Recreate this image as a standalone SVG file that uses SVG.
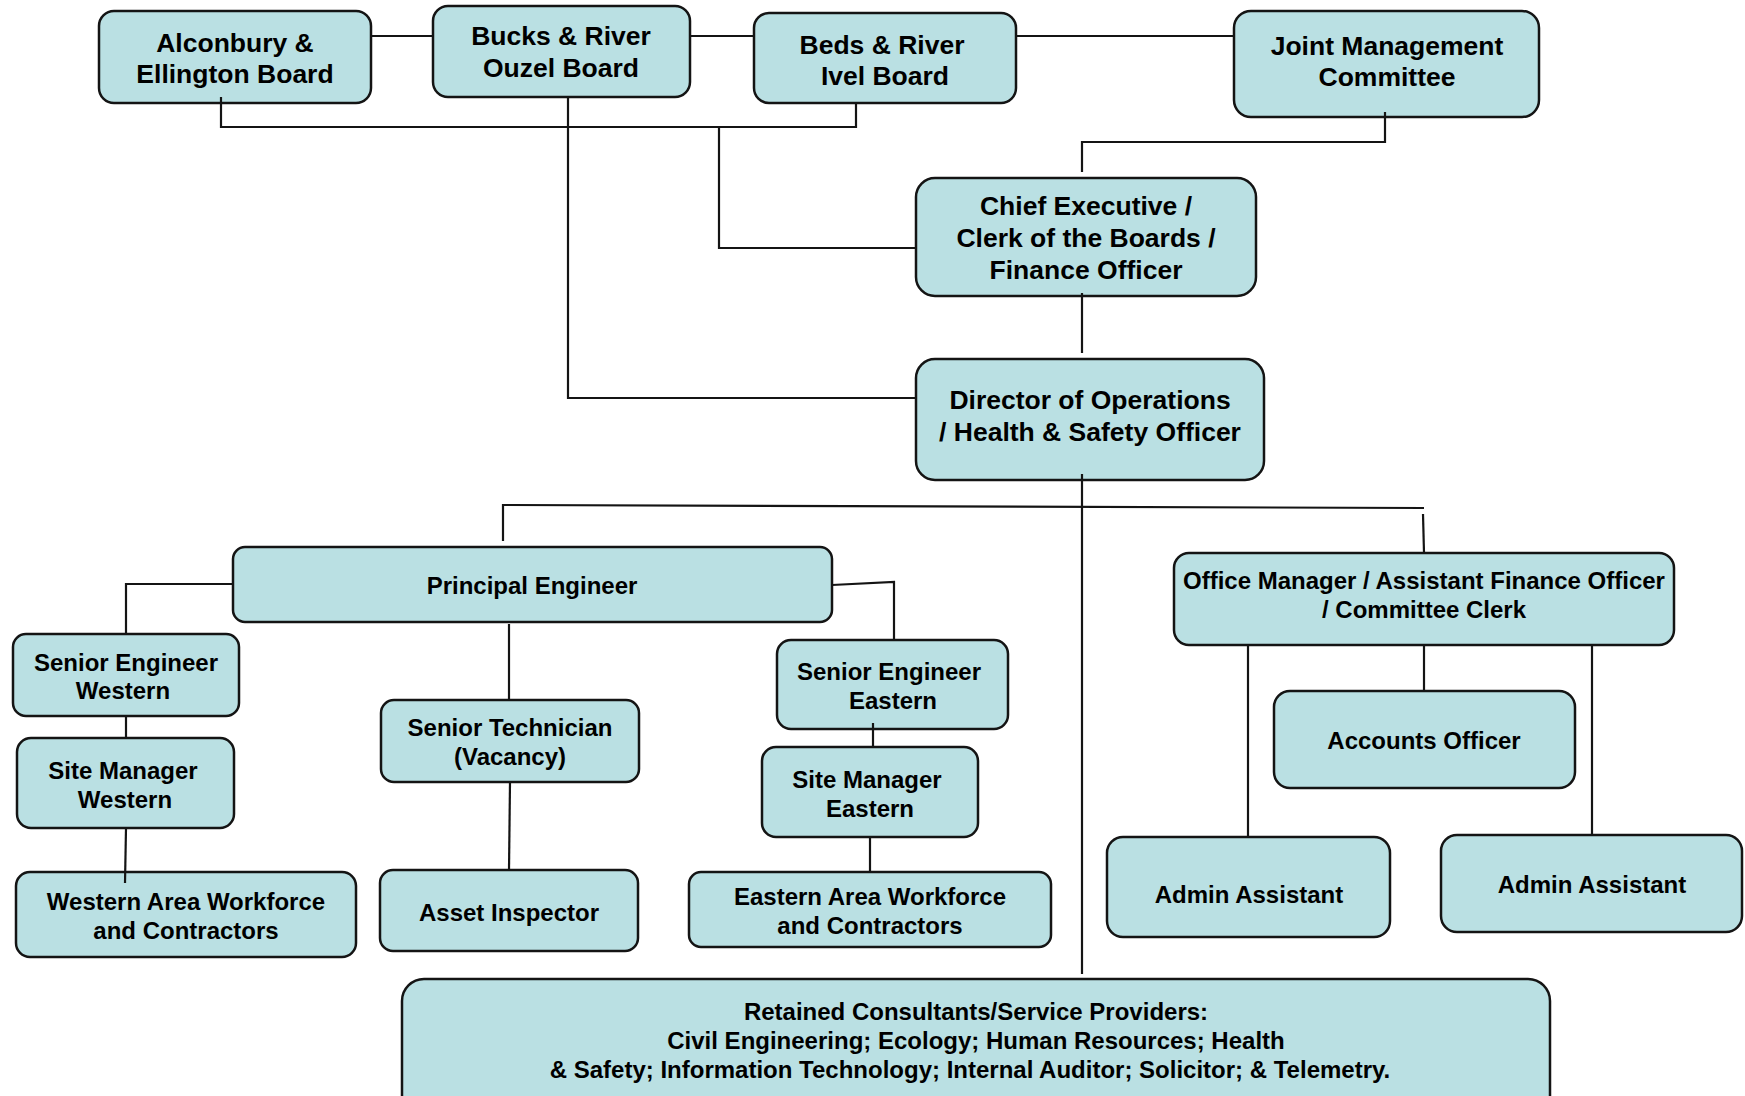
<svg xmlns="http://www.w3.org/2000/svg" width="1745" height="1096" viewBox="0 0 1745 1096">
<style>
.n{fill:#bae0e3;stroke:#141414;stroke-width:2.5}
.t{font-family:"Liberation Sans",Arial,sans-serif;font-weight:bold;fill:#000;text-anchor:middle}
.big{font-size:26.5px}
.sm{font-size:24px}
.c{fill:none;stroke:#141414;stroke-width:2.2}
</style>
<rect width="1745" height="1096" fill="#fff"/>
<g id="nodes">
<g id="alconbury"><rect class="n" x="99" y="11" width="272" height="92" rx="15"/><text class="t big" x="235" y="52">Alconbury &amp;</text><text class="t big" x="235" y="83">Ellington Board</text></g>
<g id="bucks"><rect class="n" x="433" y="6" width="257" height="91" rx="15"/><text class="t big" x="561" y="45">Bucks &amp; River</text><text class="t big" x="561" y="77">Ouzel Board</text></g>
<g id="beds"><rect class="n" x="754" y="13" width="262" height="90" rx="15"/><text class="t big" x="882" y="54">Beds &amp; River</text><text class="t big" x="885" y="85">Ivel Board</text></g>
<g id="jmc"><rect class="n" x="1234" y="11" width="305" height="106" rx="17"/><text class="t big" x="1387" y="55">Joint Management</text><text class="t big" x="1387" y="86">Committee</text></g>
<g id="chief"><rect class="n" x="916" y="178" width="340" height="118" rx="19"/><text class="t big" x="1086" y="215">Chief Executive /</text><text class="t big" x="1086" y="247">Clerk of the Boards /</text><text class="t big" x="1086" y="279">Finance Officer</text></g>
<g id="director"><rect class="n" x="916" y="359" width="348" height="121" rx="19"/><text class="t big" x="1090" y="409">Director of Operations</text><text class="t big" x="1090" y="441">/ Health &amp; Safety Officer</text></g>
<g id="principal"><rect class="n" x="233" y="547" width="599" height="75" rx="12"/><text class="t sm" x="532" y="594">Principal Engineer</text></g>
<g id="seniorW"><rect class="n" x="13" y="634" width="226" height="82" rx="13"/><text class="t sm" x="126" y="671">Senior Engineer</text><text class="t sm" x="123" y="699">Western</text></g>
<g id="siteW"><rect class="n" x="17" y="738" width="217" height="90" rx="14"/><text class="t sm" x="123" y="779">Site Manager</text><text class="t sm" x="125" y="808">Western</text></g>
<g id="workW"><rect class="n" x="16" y="872" width="340" height="85" rx="14"/><text class="t sm" x="186" y="910">Western Area Workforce</text><text class="t sm" x="186" y="939">and Contractors</text></g>
<g id="tech"><rect class="n" x="381" y="700" width="258" height="82" rx="13"/><text class="t sm" x="510" y="736">Senior Technician</text><text class="t sm" x="510" y="765">(Vacancy)</text></g>
<g id="asset"><rect class="n" x="380" y="870" width="258" height="81" rx="13"/><text class="t sm" x="509" y="921">Asset Inspector</text></g>
<g id="seniorE"><rect class="n" x="777" y="640" width="231" height="89" rx="14"/><text class="t sm" x="889" y="680">Senior Engineer</text><text class="t sm" x="893" y="709">Eastern</text></g>
<g id="siteE"><rect class="n" x="762" y="747" width="216" height="90" rx="14"/><text class="t sm" x="867" y="788">Site Manager</text><text class="t sm" x="870" y="817">Eastern</text></g>
<g id="workE"><rect class="n" x="689" y="872" width="362" height="75" rx="12"/><text class="t sm" x="870" y="905">Eastern Area Workforce</text><text class="t sm" x="870" y="934">and Contractors</text></g>
<g id="office"><rect class="n" x="1174" y="553" width="500" height="92" rx="15"/><text class="t sm" x="1424" y="589">Office Manager / Assistant Finance Officer</text><text class="t sm" x="1424" y="618">/ Committee Clerk</text></g>
<g id="accounts"><rect class="n" x="1274" y="691" width="301" height="97" rx="16"/><text class="t sm" x="1424" y="749">Accounts Officer</text></g>
<g id="admin1"><rect class="n" x="1107" y="837" width="283" height="100" rx="16"/><text class="t sm" x="1249" y="903">Admin Assistant</text></g>
<g id="admin2"><rect class="n" x="1441" y="835" width="301" height="97" rx="16"/><text class="t sm" x="1592" y="893">Admin Assistant</text></g>
<g id="retained"><rect class="n" x="402" y="979" width="1148" height="140" rx="22"/><text class="t sm" x="976" y="1020">Retained Consultants/Service Providers:</text><text class="t sm" x="976" y="1049">Civil Engineering; Ecology; Human Resources; Health</text><text class="t sm" x="970" y="1078">&amp; Safety; Information Technology; Internal Auditor; Solicitor; &amp; Telemetry.</text></g>
</g>
<g id="connectors" class="c">
<path d="M371 36H433M690 36H754M1016 36H1234"/>
<path d="M221 97V127H856V103"/>
<path d="M719 127V248H916"/>
<path d="M568 97V398H916"/>
<path d="M1385 112V142H1082V172"/>
<path d="M1082 293V353"/>
<path d="M1082 474V974"/>
<path d="M503 541V505L1424 508"/>
<path d="M1423 514L1424 553"/>
<path d="M233 584H126V634"/>
<path d="M832 585L894 582V640"/>
<path d="M126 716V738"/>
<path d="M126 828L125 883"/>
<path d="M509 624V700"/>
<path d="M510 782L509 870"/>
<path d="M873 723V747"/>
<path d="M870 837V872"/>
<path d="M1424 645V691"/>
<path d="M1248 645V837"/>
<path d="M1592 645V835"/>
</g>
</svg>
